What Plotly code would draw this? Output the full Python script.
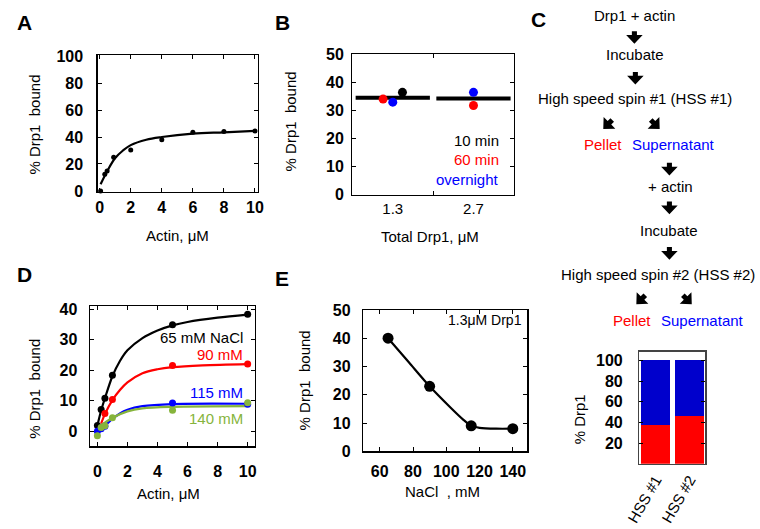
import math
import plotly.graph_objects as go

W, H = 760, 529
FONT = "Liberation Sans, Arial, sans-serif"

# ---------------- data ----------------
# Panel A
a_actin = [0.06, 0.33, 0.48, 0.9, 2, 4, 6, 8, 10]
a_bound = [0, 12.4, 14.8, 25, 30.3, 38, 43.5, 44, 44.5]
a_fit_x = [0.06, 0.5, 1, 1.5, 2, 3, 4, 6, 8, 10]
a_fit_y = [5, 15, 24.4, 30, 34, 38, 40, 42.5, 43.5, 44.5]

# Panel B
b_drp1 = ["1.3", "2.7"]
b_10min = [36.5, None]
b_60min = [34.1, 31.8]
b_overnight = [33.0, 36.5]
b_mean = [34.6, 34.3]

# Panel D
d_actin = [0, 0.25, 0.5, 1, 5, 10]
d_65 = [1.9, 7.1, 10.8, 18.3, 34.9, 38.3]
d_90 = [None, None, 5.8, 10.4, 21.5, 22.0]
d_115 = [0, 0.8, 1.6, None, 9.2, 8.8]
d_140 = [-1.5, 1.2, 1.8, 4.4, 6.9, 9.3]
d_fit65_x = [0, 0.25, 0.5, 1, 1.5, 2, 3, 4, 5, 6, 8, 10]
d_fit65_y = [1.9, 6.8, 10.8, 18, 23, 26.5, 30.5, 33, 34.7, 35.8, 37.2, 38.2]
d_fit90_x = [0.25, 0.5, 1, 1.5, 2, 3, 4, 5, 7, 10]
d_fit90_y = [2.5, 5.6, 10.2, 13.5, 16, 19, 20.3, 21, 21.6, 22]
d_fit115_x = [0, 0.25, 0.5, 1, 1.5, 2, 3, 5, 10]
d_fit115_y = [0, 0.8, 1.8, 4, 5.8, 7, 8.2, 8.9, 9]
d_fit140_x = [0, 0.25, 0.5, 1, 2, 3, 5, 10]
d_fit140_y = [1.2, 1.9, 2.8, 4.4, 6.5, 7.5, 8, 8.2]

# Panel E
e_nacl = [65, 90, 115, 140]
e_bound = [40, 23, 9, 8]
e_fit_x = [65, 77.5, 90, 102.5, 110, 115, 120, 130, 140]
e_fit_y = [40, 31.5, 23, 15.5, 11.3, 9.0, 8.3, 8.0, 8.0]

# Panel C bar chart
c_spins = ["HSS #1", "HSS #2"]
c_pellet = [37.4, 45.8]
c_supernatant = [62.6, 54.2]

RED = "#ff0000"
BLUE = "#0000ff"
GREEN = "#86b43c"
BARBLUE = "#0000cc"


def px(x):
    return x / W


def py(y):
    return 1 - y / H


def axis(d0, d1, rng, vertical=False, **kw):
    dom = [py(d1), py(d0)] if vertical else [px(d0), px(d1)]
    base = dict(
        domain=dom, range=rng, showline=True, linecolor="black", linewidth=1.3,
        mirror="ticks", ticks="inside", ticklen=4, tickwidth=1, tickcolor="black",
        showgrid=False, zeroline=False, fixedrange=True,
        tickfont=dict(family=FONT, size=16, color="black", weight="bold"),
    )
    base.update(kw)
    return base


fig = go.Figure()

# ---- Panel A ----
fig.add_trace(go.Scatter(x=a_fit_x, y=a_fit_y, mode="lines", line=dict(color="black", width=2.2, shape="spline", smoothing=1.0),
                         xaxis="x", yaxis="y", hoverinfo="skip", showlegend=False))
fig.add_trace(go.Scatter(x=a_actin, y=a_bound, mode="markers", marker=dict(color="black", size=5),
                         xaxis="x", yaxis="y", cliponaxis=False, showlegend=False))

# ---- Panel B ----
cat_pos = [1, 2]
for i, m in enumerate(b_mean):
    fig.add_trace(go.Scatter(x=[cat_pos[i] - 0.46, cat_pos[i] + 0.46], y=[m, m], mode="lines",
                             line=dict(color="black", width=4), xaxis="x2", yaxis="y2",
                             hoverinfo="skip", showlegend=False))
b_offsets = {"60 min": [-0.12, 0.0], "overnight": [0.0, 0.0], "10 min": [0.12, 0.0]}
for vals, col, key in [(b_60min, RED, "60 min"), (b_overnight, BLUE, "overnight"), (b_10min, "black", "10 min")]:
    xs = [cat_pos[i] + b_offsets[key][i] for i in range(len(b_drp1))]
    fig.add_trace(go.Scatter(x=xs, y=vals, mode="markers", marker=dict(color=col, size=9),
                             xaxis="x2", yaxis="y2", showlegend=False, name=key))

# ---- Panel D ----
for fx, fy, col in [(d_fit65_x, d_fit65_y, "black"), (d_fit90_x, d_fit90_y, RED),
                    (d_fit115_x, d_fit115_y, BLUE), (d_fit140_x, d_fit140_y, GREEN)]:
    fig.add_trace(go.Scatter(x=fx, y=fy, mode="lines", line=dict(color=col, width=2.2, shape="spline", smoothing=0.9),
                             xaxis="x3", yaxis="y3", hoverinfo="skip", showlegend=False))
for vals, col in [(d_65, "black"), (d_90, RED), (d_115, BLUE), (d_140, GREEN)]:
    fig.add_trace(go.Scatter(x=d_actin, y=vals, mode="markers", marker=dict(color=col, size=7),
                             xaxis="x3", yaxis="y3", cliponaxis=False, showlegend=False))

# ---- Panel E ----
fig.add_trace(go.Scatter(x=e_fit_x, y=e_fit_y, mode="lines", line=dict(color="black", width=2.2, shape="spline", smoothing=0.8),
                         xaxis="x4", yaxis="y4", hoverinfo="skip", showlegend=False))
fig.add_trace(go.Scatter(x=e_nacl, y=e_bound, mode="markers", marker=dict(color="black", size=11),
                         xaxis="x4", yaxis="y4", cliponaxis=False, showlegend=False))

# ---- Panel C bars ----
fig.add_trace(go.Bar(x=[1, 2], y=c_pellet, marker=dict(color=RED, line=dict(width=0)), width=0.86,
                     xaxis="x5", yaxis="y5", name="Pellet", showlegend=False))
fig.add_trace(go.Bar(x=[1, 2], y=c_supernatant, marker=dict(color=BARBLUE, line=dict(width=0)), width=0.86,
                     xaxis="x5", yaxis="y5", name="Supernatant", showlegend=False))

layout = dict(
    width=W, height=H, margin=dict(l=0, r=0, t=0, b=0), paper_bgcolor="white", plot_bgcolor="white",
    barmode="stack", showlegend=False, font=dict(family=FONT, size=15, color="black"),
    xaxis=axis(85, 250, [-0.13, 10.2], anchor="y", tickvals=[0, 2, 4, 6, 8, 10], ticklabelstandoff=1),
    yaxis=axis(49, 190, [-0.7, 100.5], vertical=True, anchor="x", tickvals=[0, 20, 40, 60, 80, 100], ticklabelstandoff=10),
    xaxis2=axis(347, 513, [0.5, 2.5], anchor="y2", tickvals=[1, 2], ticktext=b_drp1, ticklen=0, ticklabelstandoff=0,
                tickfont=dict(family=FONT, size=15, color="black"),
                minor=dict(tickmode="array", tickvals=[1.5], ticks="inside", ticklen=4, tickcolor="black")),
    yaxis2=axis(48, 193, [0, 50], vertical=True, anchor="x2", tickvals=[0, 10, 20, 30, 40, 50], ticklabelstandoff=4),
    xaxis3=axis(77, 247, [-0.5, 10.5], anchor="y3", tickvals=[0, 2, 4, 6, 8, 10], ticklabelstandoff=10),
    yaxis3=axis(308, 453, [-5, 41], vertical=True, anchor="x3", tickvals=[0, 10, 20, 30, 40], ticklabelstandoff=8),
    xaxis4=axis(358, 527, [50, 148.8], anchor="y4", tickvals=[60, 80, 100, 120, 140], ticklabelstandoff=5),
    yaxis4=axis(312, 458, [0, 50], vertical=True, anchor="x4", tickvals=[0, 10, 20, 30, 40, 50], ticklabelstandoff=8),
    xaxis5=axis(642, 710, [0.52, 2.46], anchor="y5", tickvals=[1, 2], ticktext=c_spins, ticks="", tickangle=-60,
                ticklabelstandoff=0, linecolor="#444", tickfont=dict(family=FONT, size=15, color="black")),
    yaxis5=axis(355, 471, [0, 108.5], vertical=True, anchor="x5", tickvals=[20, 40, 60, 80, 100], ticklabelstandoff=12,
                linecolor="#444"),
)

ann = []


def text(x, y, s, size=15, color="black", bold=False, angle=0, xanchor="center"):
    ann.append(dict(x=px(x), y=py(y), xref="paper", yref="paper", text=s, showarrow=False, textangle=angle,
                    xanchor=xanchor, yanchor="middle",
                    font=dict(family=FONT, size=size, color=color, weight="bold" if bold else "normal")))


# panel letters
for lt, x, y in [("A", 10, 15), ("B", 275, 15), ("C", 538, 12), ("D", 10, 275), ("E", 275, 279)]:
    text(x, y, lt, size=21, bold=True)

# axis titles
text(20, 120, "% Drp1\u00a0\u00a0bound", angle=-90)
text(167, 235, "Actin, μM")
text(283, 117, "% Drp1\u00a0\u00a0bound", angle=-90)
text(427, 236, "Total Drp1, μM")
text(20, 393, "% Drp1\u00a0\u00a0bound", angle=-90)
text(158, 502, "Actin, μM")
text(298, 385, "% Drp1\u00a0\u00a0bound", angle=-90)
text(440, 500, "NaCl\u00a0\u00a0, mM")
text(580, 425, "% Drp1", angle=-90)

# in-plot labels (panel B)
for s, c, yy in [("10 min", "black", 137), ("60 min", RED, 157), ("overnight", BLUE, 177)]:
    text(500, yy, s, color=c, xanchor="right")
# panel D labels
for s, c, yy in [("65 mM NaCl", "black", 340), ("90 mM", RED, 358), ("115 mM", BLUE, 397), ("140 mM", GREEN, 424)]:
    text(237, yy, s, color=c, xanchor="right")
# panel E label
text(523, 322, "1.3μM Drp1", size=14, xanchor="right")

# flowchart text
text(637, 8, "Drp1 + actin")
text(638, 48, "Incubate")
text(638, 93, "High speed spin #1 (HSS #1)")
text(605, 141, "Pellet", color=RED)
text(677, 141, "Supernatant", color=BLUE)
text(674, 184, "+ actin")
text(673, 230, "Incubate")
text(661, 275, "High speed spin #2 (HSS #2)")
text(635, 323, "Pellet", color=RED)
text(707, 323, "Supernatant", color=BLUE)

layout["annotations"] = ann

# block arrows for the flowchart
shapes = []


def arrow(tipx, tipy, angle_deg):
    # angle measured from straight down, positive = toward right
    a = math.radians(angle_deg)
    d = (math.sin(a), math.cos(a))  # pointing direction in pixel coords (y down)
    p = (-d[1], d[0])
    pts_uv = [(0, 0), (9, 8.5), (9, 2.6), (13, 2.6), (13, -2.6), (9, -2.6), (9, -8.5)]
    pts = []
    for u, v in pts_uv:
        x = tipx - u * d[0] + v * p[0]
        y = tipy - u * d[1] + v * p[1]
        pts.append((px(x), py(y)))
    path = "M " + " L ".join(f"{x:.5f},{y:.5f}" for x, y in pts) + " Z"
    shapes.append(dict(type="path", path=path, xref="paper", yref="paper", fillcolor="black",
                       line=dict(width=0)))


arrow(637, 37, 0)
arrow(638, 79, 0)
arrow(605, 125, -45)
arrow(663, 125, 45)
arrow(673, 173, 0)
arrow(673, 213, 0)
arrow(673, 260, 0)
arrow(639, 306, -45)
arrow(696, 306, 45)
layout["shapes"] = shapes

fig.update_layout(**layout)
fig.write_html("out.html", config={"displayModeBar": False, "staticPlot": True},
               post_script="document.body.style.margin='0';document.body.style.overflow='hidden';")
